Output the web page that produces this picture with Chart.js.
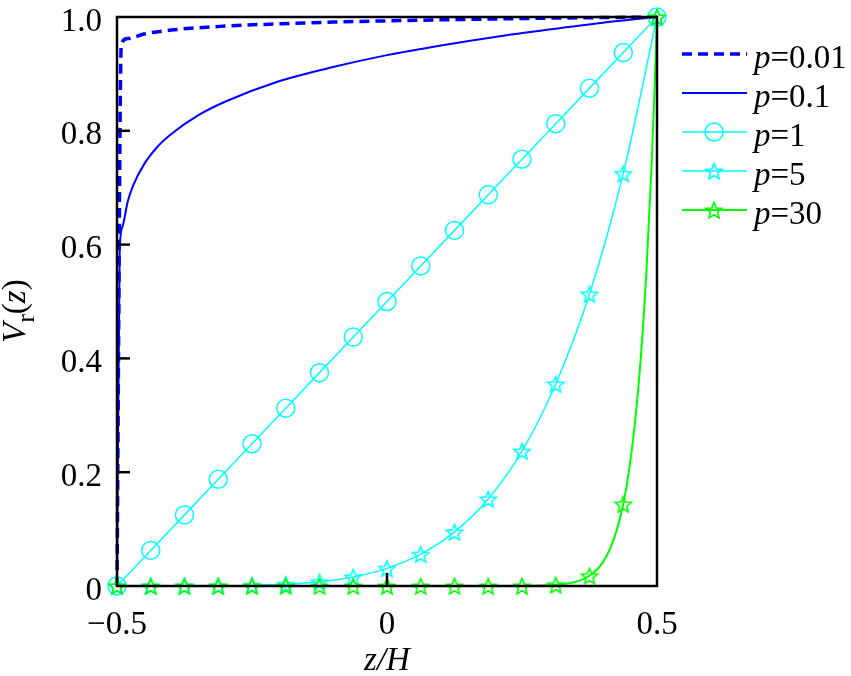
<!DOCTYPE html>
<html><head><meta charset="utf-8">
<script src="https://cdn.jsdelivr.net/npm/chart.js@4"></script>
<style>html,body{margin:0;padding:0;background:#fff;}canvas{display:block;}</style>
</head><body>
<canvas id="c" width="851" height="676"></canvas>
<script>
// ---- data ----
const xTickValues = [-0.5, 0, 0.5];
const xTickLabels = ['\u22120.5', '0', '0.5'];
const yTickValues = [0, 0.2, 0.4, 0.6, 0.8, 1.0];
const yTickLabels = ['0', '0.2', '0.4', '0.6', '0.8', '1.0'];

const zMarks = [-0.5,-0.4375,-0.375,-0.3125,-0.25,-0.1875,-0.125,-0.0625,0,0.0625,0.125,0.1875,0.25,0.3125,0.375,0.4375,0.5];
const vP1Marks  = [0,0.0625,0.125,0.1875,0.25,0.3125,0.375,0.4375,0.5,0.5625,0.625,0.6875,0.75,0.8125,0.875,0.9375,1];
const vP5Marks  = [0,0,0,0.0002,0.001,0.003,0.0074,0.016,0.031,0.056,0.095,0.153,0.237,0.355,0.513,0.725,1];
const vP30Marks = [0,0,0,0,0,0,0,0,0,0,0,0,0.0002,0.002,0.018,0.144,1];

const zP001 = [-0.5,-0.492,-0.48,-0.45,-0.4,-0.3,-0.2,-0.1,0.1,0.3,0.5];
const vP001 = [0,0.953,0.962,0.970,0.977,0.984,0.988,0.991,0.995,0.998,1];

const zP01 = [-0.5,-0.495,-0.49,-0.48,-0.47,-0.45,-0.425,-0.4,-0.35,-0.3,-0.2,-0.1,0,0.1,0.2,0.3,0.4,0.5];
const vP01 = [0,0.589,0.631,0.676,0.704,0.741,0.772,0.794,0.827,0.851,0.887,0.912,0.933,0.950,0.965,0.978,0.990,1];

const zP30 = [-0.5,0.25,0.3,0.3125,0.35,0.375,0.4,0.42,0.4375,0.45,0.46,0.47,0.48,0.49,0.495,0.5];
const vP30 = [0,0.0002,0.0012,0.002,0.0076,0.018,0.042,0.082,0.144,0.215,0.294,0.401,0.545,0.740,0.860,1];

const seriesNames = ['0.01', '0.1', '1', '5', '30'];

// ---- styling ----
const FONT = '"Liberation Serif","Times New Roman",serif';
const BLUE = '#0000ff', CYAN = '#00ffff', GREEN = '#00ff00';
function zip(xs, ys){ return xs.map((x,i)=>({x:x, y:ys[i]})); }
function starCanvas(color){
  const s = 22, c = document.createElement('canvas');
  c.width = s; c.height = s;
  const g = c.getContext('2d');
  g.strokeStyle = color; g.lineWidth = 1.6; g.lineJoin = 'miter';
  g.beginPath();
  for (let i = 0; i < 10; i++) {
    const r = i % 2 === 0 ? 8.5 : 3.8;
    const a = -Math.PI/2 + i*Math.PI/5;
    const x = s/2 + r*Math.cos(a), y = s/2 + 1 + r*Math.sin(a);
    if (i === 0) g.moveTo(x,y); else g.lineTo(x,y);
  }
  g.closePath(); g.stroke();
  return c;
}
const starCyan = starCanvas(CYAN), starGreen = starCanvas(GREEN);

const datasets = [
  {label:'p=0.01', data: zip(zP001, vP001), borderColor: BLUE, borderWidth: 3.5, borderDash:[10,6],
   pointRadius:0, cubicInterpolationMode:'monotone', order:10, clip:false},
  {label:'p=0.1', data: zip(zP01, vP01), borderColor: BLUE, borderWidth: 2,
   pointRadius:0, cubicInterpolationMode:'monotone', order:9, clip:false},
  {label:'p=1', data: zip(zMarks, vP1Marks), borderColor: CYAN, borderWidth: 1.5,
   pointStyle:'circle', pointRadius:9, pointBorderWidth:1.5, pointBorderColor: CYAN,
   pointBackgroundColor:'rgba(0,0,0,0)', order:8, clip:false},
  {label:'p=5', data: zip(zMarks, vP5Marks), borderColor: CYAN, borderWidth: 1.5,
   cubicInterpolationMode:'monotone', pointStyle: starCyan, pointRadius:9, order:7, clip:false},
  {label:'p=30 line', data: zip(zP30, vP30), borderColor: GREEN, borderWidth: 2,
   cubicInterpolationMode:'monotone', pointRadius:0, order:6, clip:false},
  {label:'p=30', data: zip(zMarks, vP30Marks), showLine:false, borderColor: GREEN,
   pointStyle: starGreen, pointRadius:9, order:5, clip:false}
];

const legendEntries = [
  {name: seriesNames[0], color: BLUE, width: 3.5, dash:[10,6], marker:null},
  {name: seriesNames[1], color: BLUE, width: 2, dash:[], marker:null},
  {name: seriesNames[2], color: CYAN, width: 1.5, dash:[], marker:'circle'},
  {name: seriesNames[3], color: CYAN, width: 1.5, dash:[], marker: starCyan},
  {name: seriesNames[4], color: GREEN, width: 2, dash:[], marker: starGreen}
];

const decorPlugin = {
  id: 'decor',
  afterDatasetsDraw(chart) {
    const ctx = chart.ctx, a = chart.chartArea;
    const xs = chart.scales.x, ys = chart.scales.y;
    ctx.save();
    ctx.strokeStyle = '#000'; ctx.lineWidth = 2.5; ctx.setLineDash([]);
    ctx.strokeRect(a.left, a.top, a.right - a.left, a.bottom - a.top);
    [0.2, 0.4, 0.6, 0.8].forEach(v => {
      const y = ys.getPixelForValue(v);
      ctx.beginPath(); ctx.moveTo(a.left, y); ctx.lineTo(a.left + 13, y); ctx.stroke();
    });
    const x0 = xs.getPixelForValue(0);
    ctx.beginPath(); ctx.moveTo(x0, a.bottom); ctx.lineTo(x0, a.bottom - 13); ctx.stroke();
    ctx.restore();
  },
  afterDraw(chart) {
    const ctx = chart.ctx;
    ctx.save();
    // y-axis title V_r(z), rotated
    ctx.translate(25, 308);
    ctx.rotate(-Math.PI/2);
    ctx.fillStyle = '#000';
    ctx.textBaseline = 'alphabetic';
    ctx.textAlign = 'left';
    let x = -35;
    const parts = [
      {t:'V', f:'italic 33px ' + FONT, dy:0},
      {t:'r', f:'26px ' + FONT, dy:9},
      {t:'(', f:'33px ' + FONT, dy:0},
      {t:'z', f:'italic 33px ' + FONT, dy:0},
      {t:')', f:'33px ' + FONT, dy:0}
    ];
    parts.forEach(p => { ctx.font = p.f; ctx.fillText(p.t, x, p.dy); x += ctx.measureText(p.t).width; });
    ctx.restore();

    // legend
    ctx.save();
    const rows = [54, 93, 132, 171, 210];
    legendEntries.forEach((e, i) => {
      const y = rows[i];
      ctx.strokeStyle = e.color; ctx.lineWidth = e.width; ctx.setLineDash(e.dash);
      ctx.beginPath(); ctx.moveTo(682, y); ctx.lineTo(747, y); ctx.stroke();
      ctx.setLineDash([]);
      if (e.marker === 'circle') {
        ctx.lineWidth = 1.5; ctx.beginPath(); ctx.arc(714, y, 9, 0, Math.PI*2); ctx.stroke();
      } else if (e.marker) {
        ctx.drawImage(e.marker, 714 - e.marker.width/2, y - e.marker.height/2);
      }
      ctx.fillStyle = '#000'; ctx.textBaseline = 'middle'; ctx.textAlign = 'left';
      ctx.font = 'italic 33px ' + FONT;
      ctx.fillText('p', 754, y + 5);
      const w = ctx.measureText('p').width;
      ctx.font = '33px ' + FONT;
      ctx.fillText('=' + e.name, 754 + w, y + 5);
    });
    ctx.restore();
  }
};

new Chart(document.getElementById('c'), {
  type: 'line',
  data: { datasets },
  options: {
    responsive: false,
    animation: false,
    events: [],
    layout: { padding: { top: 17, right: 194, left: 0, bottom: 0 } },
    plugins: { legend: { display: false }, tooltip: { enabled: false } },
    scales: {
      x: {
        type: 'linear', min: -0.5, max: 0.5,
        afterBuildTicks: s => { s.ticks = xTickValues.map(v => ({value: v})); },
        ticks: { font: { family: FONT, size: 33 }, color: '#000', padding: 20, maxRotation: 0,
                 callback: v => xTickLabels[xTickValues.indexOf(v)] },
        grid: { display: false, drawTicks: false },
        border: { display: false },
        title: { display: true, text: 'z/H', color: '#000',
                 font: { family: FONT, size: 33, style: 'italic', lineHeight: 0.8 },
                 padding: { top: 0, bottom: 1 } },
        afterFit: s => { s.height = 90; s.paddingLeft = 0; s.paddingRight = 0; }
      },
      y: {
        type: 'linear', min: 0, max: 1,
        afterBuildTicks: s => { s.ticks = yTickValues.map(v => ({value: v})); },
        ticks: { font: { family: FONT, size: 33 }, color: '#000', padding: 15, labelOffset: 5,
                 callback: v => yTickLabels[yTickValues.indexOf(v)] },
        grid: { display: false, drawTicks: false },
        border: { display: false },
        afterFit: s => { s.width = 117; s.paddingTop = 0; s.paddingBottom = 0; }
      }
    }
  },
  plugins: [decorPlugin]
});
</script>
</body></html>
